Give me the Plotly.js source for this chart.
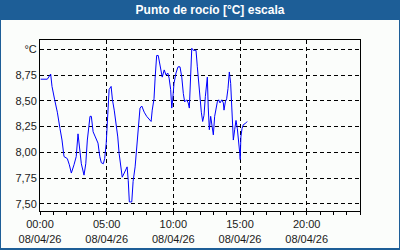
<!DOCTYPE html>
<html>
<head>
<meta charset="utf-8">
<script src="https://cdn.plot.ly/plotly-3.0.1.min.js"></script>
<style>
html,body{margin:0;padding:0;background:#fbfdfb;}
#chart{width:400px;height:250px;}
</style>
</head>
<body>
<div id="chart"></div>
<script>
// ---- data ----
const day = "2026-04-08";
const times = ["00:03","00:33","00:48","00:54","01:06","01:18","01:30","01:39","01:48","02:03",
"02:12","02:21","02:33","02:43","02:51","02:57","03:06","03:18","03:26","03:33",
"03:39","03:45","03:51","03:59","04:09","04:21","04:29","04:36","04:45","04:51",
"04:58","05:05","05:11","05:20","05:26","05:34","05:42","05:50","05:56","06:05",
"06:10","06:19","06:32","06:37","06:42","06:53","06:59","07:08","07:15","07:22",
"07:30","07:38","07:49","08:00","08:11","08:20","08:25","08:33","08:38","08:45",
"08:52","08:59","09:05","09:10","09:19","09:27","09:35","09:41","09:48","09:53",
"09:57","10:03","10:12","10:21","10:30","10:38","10:45","10:51","11:00","11:07",
"11:12","11:18","11:23","11:30","11:42","11:48","11:54","12:00","12:06","12:12",
"12:18","12:24","12:30","12:33","12:37","12:42","12:48","12:54","13:00","13:06",
"13:12","13:18","13:24","13:30","13:38","13:45","13:48","13:54","14:00","14:06",
"14:12","14:18","14:23","14:27","14:30","14:36","14:42","14:48","14:54","14:59",
"15:01","15:04","15:09","15:15","15:24","15:32"];
const dewPoint = [8.71,8.71,8.76,8.64,8.51,8.39,8.23,8.12,7.96,7.94,
7.88,7.80,7.88,7.96,8.18,8.06,7.89,7.78,7.89,8.12,
8.27,8.35,8.35,8.20,8.15,8.09,7.96,7.90,7.89,7.94,
8.09,8.44,8.61,8.64,8.51,8.41,8.28,8.15,7.99,7.86,
7.76,7.80,7.86,7.73,7.52,7.52,7.72,7.86,8.06,8.28,
8.43,8.45,8.39,8.35,8.32,8.30,8.41,8.52,8.72,8.94,
8.94,8.86,8.78,8.73,8.80,8.75,8.77,8.72,8.61,8.43,
8.51,8.67,8.77,8.83,8.83,8.73,8.57,8.49,8.51,8.48,
8.43,8.73,9.01,8.99,8.99,8.83,8.67,8.49,8.39,8.30,
8.36,8.54,8.69,8.73,8.44,8.22,8.35,8.23,8.17,8.35,
8.43,8.49,8.51,8.48,8.51,8.48,8.41,8.49,8.52,8.62,
8.78,8.67,8.44,8.22,8.12,8.22,8.31,8.23,8.12,7.99,
7.93,8.15,8.23,8.27,8.28,8.30];
const yTickVals = [7.5,7.75,8.0,8.25,8.5,8.75,9.0];
const yTickText = ["7,50","7,75","8,00","8,25","8,50","8,75","°C"];
const titleText = "Punto de rocío [°C] escala";

// ---- layout helpers ----
const W=400,H=250,ML=40,MR=40,MT=40,MB=39;
const pw=W-ML-MR, ph=H-MT-MB;
const px=x=>(x-ML)/pw;
const py=y=>(H-MB-y)/ph;
const blue="#1d5e97";
function rect(x0,y0,x1,y1){
  return {type:"rect",xref:"paper",yref:"paper",x0:px(x0),x1:px(x1),y0:py(y1),y1:py(y0),
    fillcolor:blue,line:{width:0},layer:"above"};
}

const xs = times.map(t=>day+" "+t);

const trace = {x:xs,y:dewPoint,type:"scatter",mode:"lines",
  line:{color:"#0000ff",width:1},hoverinfo:"skip"};

const layout = {
  width:W,height:H,
  margin:{l:ML,r:MR,t:MT,b:MB,pad:0},
  paper_bgcolor:"#fbfdfb",plot_bgcolor:"#fbfdfb",
  showlegend:false,
  font:{family:"Liberation Sans, Arial, sans-serif",size:11,color:"#1a1a1a"},
  title:{text:"<b>"+titleText+"</b>",font:{family:"Liberation Sans, Arial, sans-serif",size:12,color:"#ffffff"},
    xref:"container",yref:"container",x:210/W,xanchor:"center",y:1-10/H,yanchor:"middle"},
  xaxis:{type:"date",range:[day+" 00:00","2026-04-09 00:00"],
    tick0:day+" 00:00",dtick:5*3600000,tickformat:"%H:%M<br>%d/%m/%y",
    ticks:"outside",ticklen:3,tickcolor:"#000",tickwidth:1,
    minor:{dtick:3600000,ticks:"outside",ticklen:3,tickcolor:"#000",showgrid:false},
    showgrid:true,gridcolor:"#000",gridwidth:1,griddash:"4px,3px",
    showline:true,linecolor:"#000",linewidth:1,mirror:true,zeroline:false,
    tickfont:{size:11,color:"#1a1a1a"},fixedrange:true},
  yaxis:{range:[7.432,9.09],tickvals:yTickVals,ticktext:yTickText,ticks:"",
    showgrid:true,gridcolor:"#000",gridwidth:1,griddash:"4px,3px",
    showline:true,linecolor:"#000",linewidth:1,mirror:true,zeroline:false,
    tickfont:{size:11,color:"#1a1a1a"},fixedrange:true},
  shapes:[rect(0,0,400,20),rect(0,0,1,250),rect(399,0,400,250),rect(0,248,400,250)]
};

Plotly.newPlot("chart",[trace],layout,{staticPlot:true,displayModeBar:false});
</script>
</body>
</html>
